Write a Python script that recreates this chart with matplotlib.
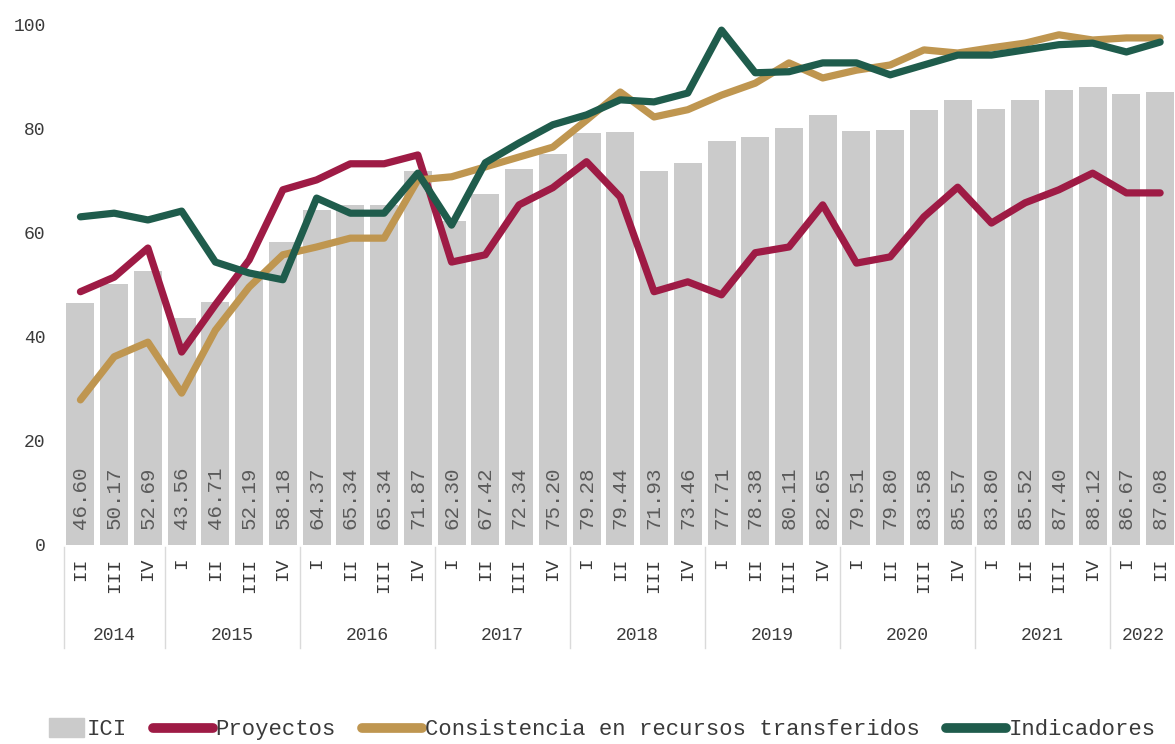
import matplotlib
matplotlib.use('Agg')
import matplotlib.pyplot as plt
import matplotlib.patches as mpatches
from matplotlib.lines import Line2D
from matplotlib.legend_handler import HandlerPatch
from matplotlib import transforms

plt.rcParams['font.family'] = ['Liberation Mono', 'DejaVu Sans Mono']

years = ['2014', '2015', '2016', '2017', '2018', '2019', '2020', '2021', '2022']
quarters = ['II', 'III', 'IV',
            'I', 'II', 'III', 'IV',
            'I', 'II', 'III', 'IV',
            'I', 'II', 'III', 'IV',
            'I', 'II', 'III', 'IV',
            'I', 'II', 'III', 'IV',
            'I', 'II', 'III', 'IV',
            'I', 'II', 'III', 'IV',
            'I', 'II']
quarters_per_year = [3, 4, 4, 4, 4, 4, 4, 4, 2]

ici = [46.60, 50.17, 52.69, 43.56, 46.71, 52.19, 58.18, 64.37, 65.34, 65.34, 71.87,
       62.30, 67.42, 72.34, 75.20, 79.28, 79.44, 71.93, 73.46, 77.71, 78.38, 80.11,
       82.65, 79.51, 79.80, 83.58, 85.57, 83.80, 85.52, 87.40, 88.12, 86.67, 87.08]

proyectos = [48.7, 51.5, 57.1, 37.1, 46.2, 54.8, 68.3, 70.2, 73.3, 73.3, 75.0,
             54.4, 55.8, 65.4, 68.7, 73.7, 66.9, 48.7, 50.6, 48.1, 56.2, 57.3,
             65.4, 54.2, 55.4, 63.1, 68.8, 61.9, 65.8, 68.3, 71.5, 67.7, 67.7]

consistencia = [27.9, 36.2, 39.0, 29.2, 41.3, 49.6, 55.8, 57.3, 59.0, 59.0, 70.2,
                70.8, 72.7, 74.6, 76.5, 81.7, 87.1, 82.3, 83.7, 86.5, 88.8, 92.7,
                89.8, 91.3, 92.3, 95.2, 94.6, 95.6, 96.5, 98.1, 97.1, 97.5, 97.5]

indicadores = [63.1, 63.8, 62.5, 64.2, 54.4, 52.3, 51.0, 66.7, 63.8, 63.8, 71.5,
               61.5, 73.5, 77.3, 80.8, 82.7, 85.6, 85.2, 86.9, 99.0, 90.8, 91.0,
               92.7, 92.7, 90.4, 92.3, 94.2, 94.2, 95.2, 96.2, 96.5, 94.8, 96.7]

c_bar = '#cbcbcb'
c_red = '#9e1b45'
c_gold = '#bf9650'
c_green = '#1f5c4c'
c_text = '#3a3a3a'

fig = plt.figure(figsize=(11.75, 7.44), dpi=100)
ax = fig.add_axes([0.0541, 0.2675, 0.9476, 0.699])

x = list(range(len(ici)))
ax.bar(x, ici, width=0.83, color=c_bar, zorder=1)
for xi, v in zip(x, ici):
    ax.text(xi, 3.0, f'{v:.2f}', rotation=90, ha='center', va='bottom',
            fontsize=15, color='#5a5a5a', zorder=2)

ax.plot(x, proyectos, color=c_red, lw=5.2, solid_joinstyle='round', solid_capstyle='round', zorder=3)
ax.plot(x, consistencia, color=c_gold, lw=5.2, solid_joinstyle='round', solid_capstyle='round', zorder=4)
ax.plot(x, indicadores, color=c_green, lw=5.2, solid_joinstyle='round', solid_capstyle='round', zorder=5)

ax.set_xlim(-0.5, len(ici) - 0.5)
ax.set_ylim(0, 100)
ax.set_yticks([0, 20, 40, 60, 80, 100])
ax.tick_params(axis='y', length=0, pad=13, labelsize=13, labelcolor=c_text)
ax.set_xticks(x)
ax.set_xticklabels(quarters, rotation=90, va='top')
ax.tick_params(axis='x', length=0, pad=9, labelsize=14, labelcolor=c_text)
for s in ax.spines.values():
    s.set_visible(False)

# year groups below the quarter labels
trans = transforms.blended_transform_factory(ax.transData, fig.transFigure)
bounds = [-0.5]
for n in quarters_per_year:
    bounds.append(bounds[-1] + n)
for i, yr in enumerate(years):
    mid = (bounds[i] + bounds[i + 1]) / 2
    ax.text(mid, 0.1465, yr, transform=trans, ha='center', va='center',
            fontsize=13, color=c_text)
for b in bounds:
    ax.add_line(Line2D([b, b], [0.129, 0.2648], transform=trans, color='#dadada',
                       lw=1, clip_on=False))


def short_rect(legend, orig_handle, xdescent, ydescent, width, height, fontsize):
    return mpatches.Rectangle((width * 0.42 - xdescent, -ydescent - 1), width * 0.58, height + 2)


handles = [mpatches.Patch(color=c_bar, label='ICI'),
           Line2D([], [], color=c_red, lw=7, solid_capstyle='round', label='Proyectos'),
           Line2D([], [], color=c_gold, lw=7, solid_capstyle='round',
                  label='Consistencia en recursos transferidos'),
           Line2D([], [], color=c_green, lw=7, solid_capstyle='round', label='Indicadores')]
fig.legend(handles=handles, loc='center', bbox_to_anchor=(0.502, 0.019), ncol=4,
           frameon=False, fontsize=16, handlelength=2.7, handletextpad=0.1,
           columnspacing=1.2, labelcolor=c_text,
           handler_map={mpatches.Patch: HandlerPatch(patch_func=short_rect)})

fig.savefig('out.png', dpi=100)
